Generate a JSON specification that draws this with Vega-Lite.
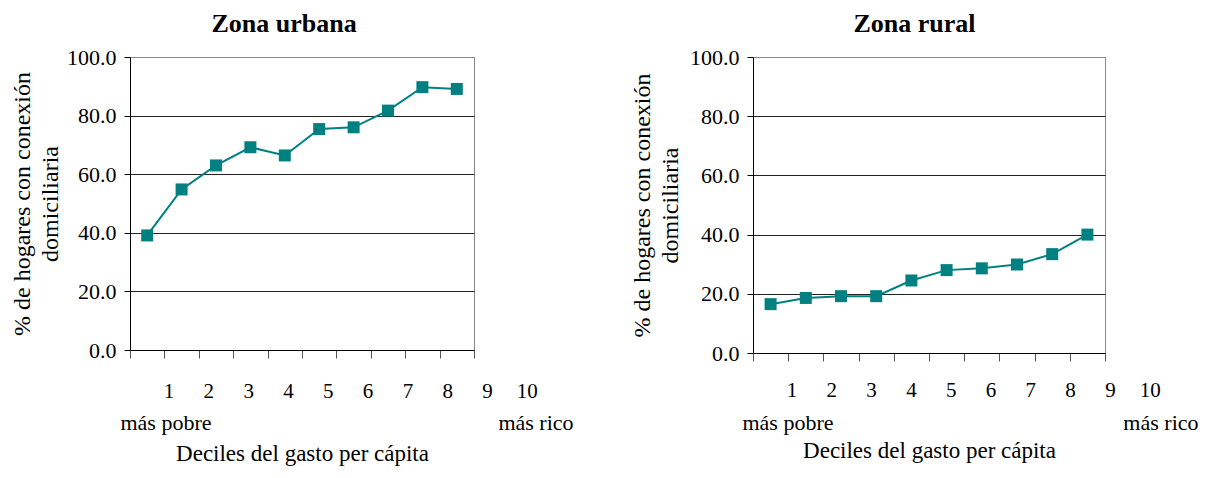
{
  "$schema": "https://vega.github.io/schema/vega-lite/v6.json",
  "background": "white",
  "padding": {"left": 9, "top": 10, "right": 5, "bottom": 5},
  "datasets": {
    "urbana": [
      {"decil": 1, "pct": 39.1}, {"decil": 2, "pct": 54.8}, {"decil": 3, "pct": 63.0},
      {"decil": 4, "pct": 69.2}, {"decil": 5, "pct": 66.4}, {"decil": 6, "pct": 75.4},
      {"decil": 7, "pct": 76.0}, {"decil": 8, "pct": 81.7}, {"decil": 9, "pct": 89.7},
      {"decil": 10, "pct": 89.1}
    ],
    "rural": [
      {"decil": 1, "pct": 16.5}, {"decil": 2, "pct": 18.6}, {"decil": 3, "pct": 19.2},
      {"decil": 4, "pct": 19.2}, {"decil": 5, "pct": 24.5}, {"decil": 6, "pct": 28.0},
      {"decil": 7, "pct": 28.6}, {"decil": 8, "pct": 29.9}, {"decil": 9, "pct": 33.4},
      {"decil": 10, "pct": 40.0}
    ],
    "extremos": [
      {"decil": 1, "texto": "más pobre"}, {"decil": 10, "texto": "más rico"}
    ]
  },
  "config": {
    "font": "Liberation Serif",
    "view": {"stroke": "#888888", "strokeWidth": 1},
    "title": {"font": "Liberation Serif", "fontSize": 26, "fontWeight": "bold", "color": "black"},
    "axis": {
      "labelFont": "Liberation Serif", "titleFont": "Liberation Serif",
      "labelColor": "black", "titleColor": "black", "titleFontWeight": "normal",
      "domainColor": "black", "domainWidth": 1
    },
    "text": {"font": "Liberation Serif", "color": "black"}
  },
  "hconcat": [
    {
      "width": 344, "height": 293,
      "title": {"text": "Zona urbana", "anchor": "middle", "frame": "bounds", "offset": 9, "dx": -8, "font": "Liberation Serif"},
      "layer": [
        {
          "data": {"name": "urbana"},
          "mark": {"type": "line", "color": "#008080", "strokeWidth": 2,
                   "point": {"shape": "square", "size": 144, "filled": true, "color": "#008080"}},
          "encoding": {
            "x": {"field": "decil", "type": "quantitative",
                  "scale": {"domain": [0.5, 10.5], "nice": false, "zero": false},
                  "axis": {"values": [0.5,1.5,2.5,3.5,4.5,5.5,6.5,7.5,8.5,9.5,10.5], "labels": false,
                           "tickSize": 8, "tickColor": "#555555", "grid": false,
                           "title": "Deciles del gasto per cápita", "titleFont": "Liberation Serif", "titleFontSize": 23, "titlePadding": 84}},
            "y": {"field": "pct", "type": "quantitative",
                  "scale": {"domain": [0, 100], "nice": false},
                  "axis": {"values": [0, 20, 40, 60, 80, 100], "format": ".1f", "labelFont": "Liberation Serif", "labelFontSize": 22,
                           "tickSize": 6, "tickColor": "black", "labelPadding": 8,
                           "grid": true, "gridColor": {"condition": {"test": "datum.value === 100", "value": "#888888"}, "value": "#222222"},
                           "title": ["% de hogares con conexión", "domiciliaria"], "titleFont": "Liberation Serif", "titleFontSize": 24,
                           "titleLineHeight": 28, "titlePadding": 4}}
          }
        },
        {
          "data": {"name": "urbana"},
          "mark": {"type": "text", "font": "Liberation Serif", "fontSize": 21, "baseline": "middle", "dy": 42},
          "encoding": {
            "x": {"field": "decil", "type": "quantitative",
                  "scale": {"domain": [0.02, 8.66], "nice": false, "zero": false}, "axis": null},
            "y": {"datum": 0},
            "text": {"field": "decil", "type": "nominal"}
          }
        },
        {
          "data": {"name": "extremos"},
          "mark": {"type": "text", "font": "Liberation Serif", "fontSize": 22, "baseline": "middle", "dy": 73},
          "encoding": {
            "x": {"field": "decil", "type": "quantitative",
                  "scale": {"domain": [0.1243, 8.492], "nice": false, "zero": false}, "axis": null},
            "y": {"datum": 0},
            "text": {"field": "texto", "type": "nominal"}
          }
        }
      ],
      "resolve": {"scale": {"x": "independent"}}
    },
    {
      "width": 352, "height": 296,
      "title": {"text": "Zona rural", "anchor": "middle", "frame": "bounds", "offset": 9, "font": "Liberation Serif"},
      "layer": [
        {
          "data": {"name": "rural"},
          "mark": {"type": "line", "color": "#008080", "strokeWidth": 2,
                   "point": {"shape": "square", "size": 144, "filled": true, "color": "#008080"}},
          "encoding": {
            "x": {"field": "decil", "type": "quantitative",
                  "scale": {"domain": [0.5, 10.5], "nice": false, "zero": false},
                  "axis": {"values": [0.5,1.5,2.5,3.5,4.5,5.5,6.5,7.5,8.5,9.5,10.5], "labels": false,
                           "tickSize": 8, "tickColor": "#555555", "grid": false,
                           "title": "Deciles del gasto per cápita", "titleFont": "Liberation Serif", "titleFontSize": 23, "titlePadding": 78}},
            "y": {"field": "pct", "type": "quantitative",
                  "scale": {"domain": [0, 100], "nice": false},
                  "axis": {"values": [0, 20, 40, 60, 80, 100], "format": ".1f", "labelFont": "Liberation Serif", "labelFontSize": 22,
                           "tickSize": 6, "tickColor": "black", "labelPadding": 8,
                           "grid": true, "gridColor": {"condition": {"test": "datum.value === 100", "value": "#888888"}, "value": "#222222"},
                           "title": ["% de hogares con conexión", "domiciliaria"], "titleFont": "Liberation Serif", "titleFontSize": 24,
                           "titleLineHeight": 28, "titlePadding": 7}}
          }
        },
        {
          "data": {"name": "rural"},
          "mark": {"type": "text", "font": "Liberation Serif", "fontSize": 21, "baseline": "middle", "dy": 38},
          "encoding": {
            "x": {"field": "decil", "type": "quantitative",
                  "scale": {"domain": [0.02, 8.864], "nice": false, "zero": false}, "axis": null},
            "y": {"datum": 0},
            "text": {"field": "decil", "type": "nominal"}
          }
        },
        {
          "data": {"name": "extremos"},
          "mark": {"type": "text", "font": "Liberation Serif", "fontSize": 22, "baseline": "middle", "dy": 70},
          "encoding": {
            "x": {"field": "decil", "type": "quantitative",
                  "scale": {"domain": [0.1554, 8.65], "nice": false, "zero": false}, "axis": null},
            "y": {"datum": 0},
            "text": {"field": "texto", "type": "nominal"}
          }
        }
      ],
      "resolve": {"scale": {"x": "independent"}}
    }
  ],
  "spacing": 54
}
